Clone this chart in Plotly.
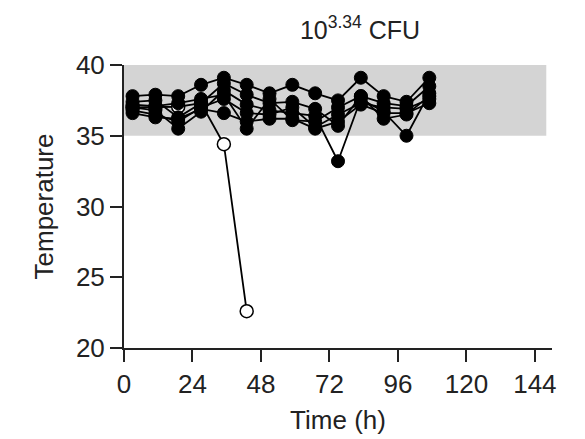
import plotly.graph_objects as go

times = [3, 11, 19, 27, 35, 43, 51, 59, 67, 75, 83, 91, 99, 107]
series_a = [37.8, 37.9, 37.8, 38.6, 39.1, 38.6, 38.0, 38.6, 38.0, 37.5, 39.1, 37.8, 37.4, 39.1]
series_b = [37.4, 37.5, 36.3, 37.3, 38.7, 37.9, 37.3, 37.4, 36.9, 35.7, 37.8, 37.3, 37.1, 38.5]
series_c = [37.0, 36.8, 35.5, 36.7, 38.2, 37.2, 36.8, 36.6, 36.4, 33.2, 37.6, 36.7, 35.0, 38.0]
series_d = [36.8, 36.5, 36.0, 37.0, 37.6, 36.6, 36.5, 37.0, 35.6, 36.5, 37.3, 37.0, 36.9, 37.6]
series_e = [36.6, 36.3, 36.2, 36.9, 36.6, 36.0, 36.2, 36.2, 35.5, 36.0, 37.2, 36.6, 36.6, 37.3]
series_f = [37.2, 37.1, 37.3, 37.6, 37.9, 35.5, 37.6, 36.1, 36.0, 37.0, 37.8, 36.2, 36.5, 37.8]
open_times = [3, 11, 19, 27, 35, 43]
open_vals = [37.0, 37.0, 37.05, 37.3, 34.4, 22.6]

band_low, band_high, band_end = 35, 40, 148

x_ticks = [0, 24, 48, 72, 96, 120, 144]
y_ticks = [20, 25, 30, 35, 40]

fig = go.Figure()
fig.add_shape(type="rect", xref="x", yref="y", x0=0, x1=band_end, y0=band_low, y1=band_high,
              fillcolor="#d4d4d4", line=dict(width=0), layer="below")

fig.add_trace(go.Scatter(x=open_times, y=open_vals, mode="lines+markers",
                         line=dict(color="black", width=1.8),
                         marker=dict(size=13, color="white", line=dict(color="black", width=1.5)),
                         showlegend=False))
for s in [series_a, series_b, series_c, series_d, series_e, series_f]:
    fig.add_trace(go.Scatter(x=times, y=s, mode="lines+markers",
                             line=dict(color="black", width=1.8),
                             marker=dict(size=13, color="black", line=dict(color="black", width=1)),
                             showlegend=False))

W, H = 577, 431
fam = "Liberation Sans, Arial, sans-serif"
tickfont = dict(family=fam, size=26, color="#222")
titlefont = dict(family=fam, size=26, color="#222")
fig.update_layout(
    width=W, height=H,
    margin=dict(l=116, r=33, t=57, b=91, autoexpand=False),
    plot_bgcolor="white", paper_bgcolor="white",
    font=dict(family=fam, size=26, color="#222"),
    title=dict(text="10<sup>3.34</sup> CFU", x=352 / W, xanchor="center", y=1 - 22 / H, yanchor="middle",
               font=dict(family=fam, size=25, color="#222")),
    xaxis=dict(range=[0, 150], tickvals=x_ticks, ticks="outside", ticklen=12, tickwidth=2,
               tickcolor="#222", showline=True, linecolor="#222", linewidth=2, showgrid=False,
               zeroline=False, automargin=False, title=dict(text="Time (h)", standoff=13, font=titlefont),
               tickfont=tickfont),
    yaxis=dict(range=[20, 40], tickvals=y_ticks, ticks="outside", ticklen=12, tickwidth=2,
               tickcolor="#222", showline=True, linecolor="#222", linewidth=2, showgrid=False,
               zeroline=False, automargin=False, title=dict(text="Temperature", standoff=15, font=titlefont),
               tickfont=tickfont),
)

fig.write_html("out.html")
